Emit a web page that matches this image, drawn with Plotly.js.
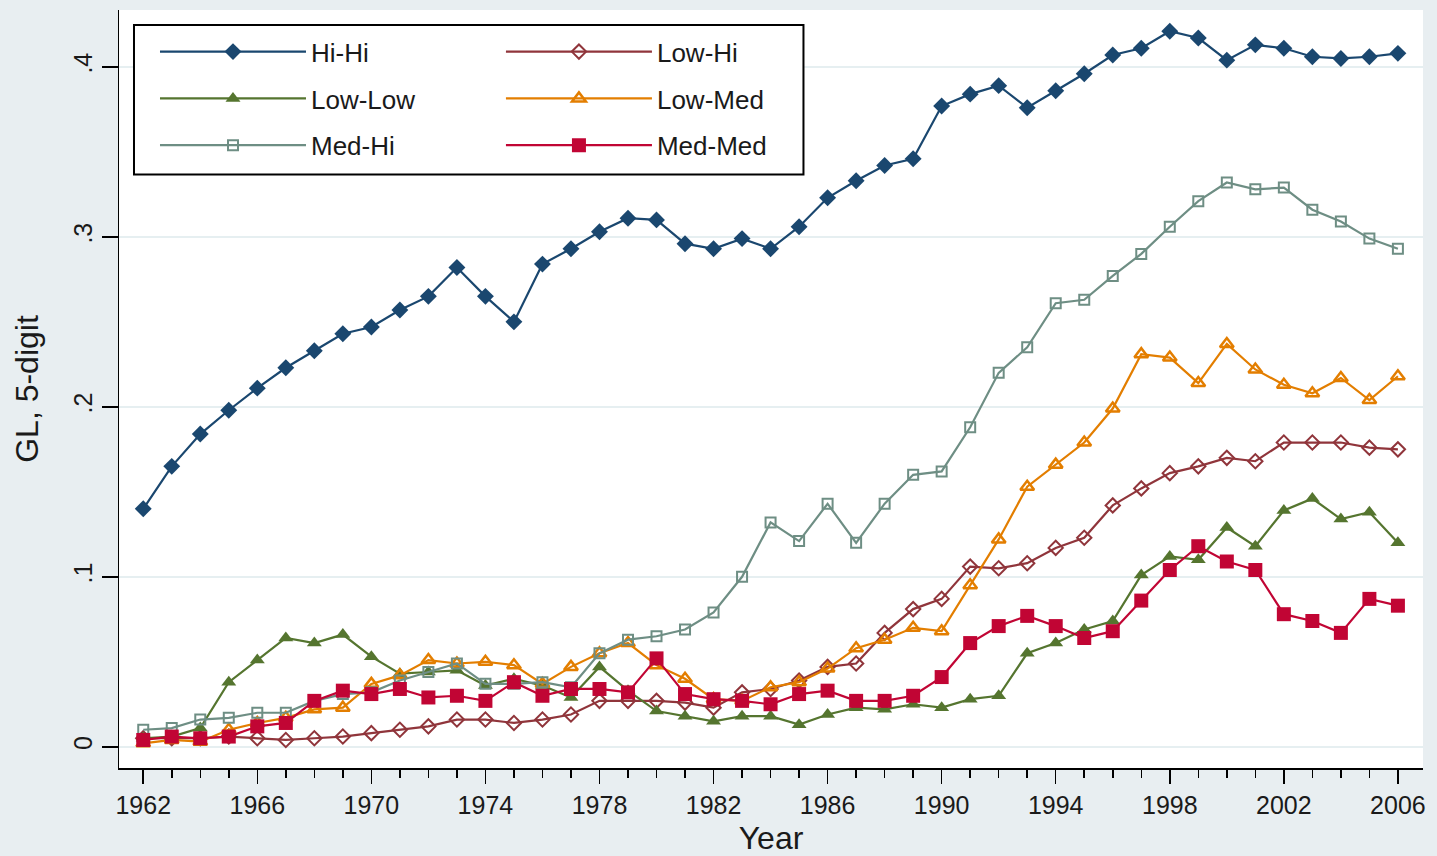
<!DOCTYPE html>
<html>
<head>
<meta charset="utf-8">
<script src="https://cdn.plot.ly/plotly-3.0.1.min.js"></script>
<style>
html,body{margin:0;padding:0;background:#e8eef1;}
#chart{width:1437px;height:856px;}
</style>
</head>
<body>
<div id="chart"></div>
<script>
const years = [1962,1963,1964,1965,1966,1967,1968,1969,1970,1971,1972,1973,1974,1975,1976,1977,1978,1979,1980,1981,1982,1983,1984,1985,1986,1987,1988,1989,1990,1991,1992,1993,1994,1995,1996,1997,1998,1999,2000,2001,2002,2003,2004,2005,2006];

const hiHi = [0.140,0.165,0.184,0.198,0.211,0.223,0.233,0.243,0.247,0.257,0.265,0.282,0.265,0.250,0.284,0.293,0.303,0.311,0.310,0.296,0.293,0.299,0.293,0.306,0.323,0.333,0.342,0.346,0.377,0.384,0.389,0.376,0.386,0.396,0.407,0.411,0.421,0.417,0.404,0.413,0.411,0.406,0.405,0.406,0.408];

const lowHi = [0.005,0.005,0.005,0.006,0.005,0.004,0.005,0.006,0.008,0.010,0.012,0.016,0.016,0.014,0.016,0.019,0.027,0.027,0.027,0.026,0.023,0.032,0.034,0.039,0.047,0.049,0.067,0.081,0.087,0.106,0.105,0.108,0.117,0.123,0.142,0.152,0.161,0.165,0.170,0.168,0.179,0.179,0.179,0.176,0.175];

const lowLow = [0.005,0.006,0.011,0.038,0.051,0.064,0.061,0.066,0.053,0.043,0.044,0.045,0.036,0.040,0.036,0.029,0.047,0.033,0.021,0.018,0.015,0.018,0.018,0.013,0.019,0.023,0.022,0.025,0.023,0.028,0.030,0.055,0.061,0.069,0.074,0.101,0.112,0.110,0.129,0.118,0.139,0.146,0.134,0.138,0.120];

const lowMed = [0.002,0.004,0.003,0.010,0.014,0.017,0.022,0.023,0.037,0.042,0.051,0.049,0.050,0.048,0.037,0.047,0.055,0.061,0.048,0.040,0.028,0.027,0.035,0.038,0.046,0.058,0.063,0.070,0.068,0.095,0.122,0.153,0.166,0.179,0.199,0.231,0.229,0.214,0.237,0.222,0.213,0.208,0.217,0.204,0.218];

const medHi = [0.010,0.011,0.016,0.017,0.020,0.020,0.027,0.031,0.032,0.039,0.044,0.049,0.037,0.037,0.038,0.035,0.055,0.063,0.065,0.069,0.079,0.100,0.132,0.121,0.143,0.120,0.143,0.160,0.162,0.188,0.220,0.235,0.261,0.263,0.277,0.290,0.306,0.321,0.332,0.328,0.329,0.316,0.309,0.299,0.293];

const medMed = [0.004,0.006,0.005,0.006,0.012,0.014,0.027,0.033,0.031,0.034,0.029,0.030,0.027,0.038,0.030,0.034,0.034,0.032,0.052,0.031,0.028,0.027,0.025,0.031,0.033,0.027,0.027,0.030,0.041,0.061,0.071,0.077,0.071,0.064,0.068,0.086,0.104,0.118,0.109,0.104,0.078,0.074,0.067,0.087,0.083];

const seriesNames = ["Hi-Hi","Low-Hi","Low-Low","Low-Med","Med-Hi","Med-Med"];
const yTickVals = [0,0.1,0.2,0.3,0.4];
const yTickText = ["0",".1",".2",".3",".4"];
const xTickVals = [1962,1966,1970,1974,1978,1982,1986,1990,1994,1998,2002,2006];

const FONT = "Liberation Sans, Arial, Helvetica, sans-serif";

function mk(name, y, color, symbol, size, lw, mlw, legend, group) {
  return {
    type: "scatter", mode: "lines+markers", name: name, x: years, y: y,
    line: {color: color, width: lw},
    marker: {color: color, symbol: symbol, size: size, line: {color: color, width: mlw}},
    legend: legend, legendgroup: group
  };
}

const data = [
  mk(seriesNames[0], hiHi,   "#1a476f", "diamond",          13, 2.2, 0,   "legend",  "g1"),
  mk(seriesNames[1], lowHi,  "#90353b", "diamond-open",     11, 2.2, 2,   "legend2", "g2"),
  mk(seriesNames[2], lowLow, "#55752f", "triangle-up",      13, 2.2, 0,   "legend",  "g3"),
  mk(seriesNames[3], lowMed, "#e37e00", "triangle-up-open", 12, 2.2, 2.5, "legend2", "g4"),
  mk(seriesNames[4], medHi,  "#6e8e84", "square-open",      10, 2.2, 2,   "legend",  "g5"),
  mk(seriesNames[5], medMed, "#c10534", "square",           14, 2.2, 0,   "legend2", "g6")
];

const legendCommon = {
  orientation: "v", traceorder: "grouped", tracegroupgap: 10,
  bgcolor: "rgba(0,0,0,0)", borderwidth: 0,
  font: {family: FONT, size: 26, color: "#1a1a1a"},
  itemwidth: 146, itemclick: false, itemdoubleclick: false,
  xref: "paper", yref: "paper", xanchor: "left", yanchor: "top"
};

const layout = {
  width: 1437, height: 856,
  paper_bgcolor: "#e8eef1",
  plot_bgcolor: "#ffffff",
  margin: {l: 119, r: 14, t: 10, b: 88},
  font: {family: FONT, size: 25, color: "#1a1a1a"},
  showlegend: true,
  legend: Object.assign({}, legendCommon, {x: 0.0276, y: 0.976}),
  legend2: Object.assign({}, legendCommon, {x: 0.2929, y: 0.976}),
  xaxis: {
    range: [1961.15, 2006.88],
    tickmode: "array", tickvals: xTickVals,
    ticks: "outside", ticklen: 14, tickwidth: 1.5, tickcolor: "#000",
    minor: {dtick: 1, tick0: 1962, ticks: "outside", ticklen: 8, tickwidth: 1.5, tickcolor: "#000", showgrid: false},
    showline: true, linecolor: "#000", linewidth: 1.5,
    showgrid: false, zeroline: false,
    tickfont: {family: FONT, size: 25, color: "#1a1a1a"},
    title: {text: "Year", font: {family: FONT, size: 32, color: "#1a1a1a"}, standoff: 14},
    automargin: false
  },
  yaxis: {
    range: [-0.0125, 0.4335],
    tickmode: "array", tickvals: yTickVals, ticktext: yTickText,
    tickangle: -90,
    ticks: "outside", ticklen: 16, tickwidth: 1.5, tickcolor: "#000",
    showline: true, linecolor: "#000", linewidth: 1.5,
    showgrid: true, gridcolor: "#e6eff1", gridwidth: 2,
    zeroline: false,
    tickfont: {family: FONT, size: 25, color: "#1a1a1a"},
    title: {text: "GL, 5-digit", font: {family: FONT, size: 32, color: "#1a1a1a"}, standoff: 20},
    automargin: false
  },
  shapes: [{
    type: "rect", xref: "paper", yref: "paper",
    x0: 0.0115, x1: 0.5249, y0: 0.7831, y1: 0.9802,
    fillcolor: "#ffffff", line: {color: "#000", width: 2}, layer: "above"
  }]
};

Plotly.newPlot("chart", data, layout, {staticPlot: true, displayModeBar: false});
</script>
</body>
</html>
